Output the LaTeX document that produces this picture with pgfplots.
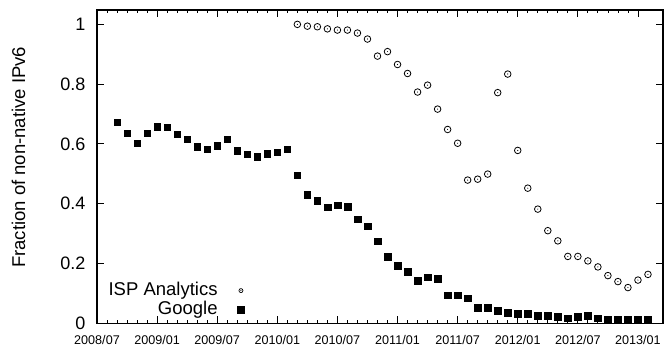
\documentclass[border=0pt]{standalone}
\usepackage{fontspec}
\setmainfont{Liberation Sans}
\usepackage{pgfplots}
\usepackage{pgfplotstable}
\pgfplotsset{compat=1.18}

% open circle with a centre dot
\pgfdeclareplotmark{odot}{%
  \pgfpathcircle{\pgfpointorigin}{\pgfplotmarksize}\pgfusepathqstroke
  \pgfpathcircle{\pgfpointorigin}{0.6pt}\pgfusepathqfill}

% month: months since 2008/07
\pgfplotstableread{
month frac
20 0.999
21 0.993
22 0.991
23 0.984
24 0.980
25 0.980
26 0.970
27 0.950
28 0.893
29 0.908
30 0.865
31 0.835
32 0.773
33 0.796
34 0.716
35 0.648
36 0.602
37 0.479
38 0.482
39 0.499
40 0.771
41 0.833
42 0.578
43 0.452
44 0.382
45 0.310
46 0.276
47 0.224
48 0.224
49 0.209
50 0.189
51 0.160
52 0.140
53 0.120
54 0.145
55 0.164
}\ispdata

\pgfplotstableread{
month frac
2 0.672
3 0.635
4 0.602
5 0.635
6 0.657
7 0.655
8 0.632
9 0.615
10 0.590
11 0.582
12 0.594
13 0.616
14 0.577
15 0.565
16 0.558
17 0.568
18 0.572
19 0.582
20 0.495
21 0.431
22 0.411
23 0.389
24 0.395
25 0.391
26 0.348
27 0.325
28 0.275
29 0.224
30 0.194
31 0.174
32 0.142
33 0.154
34 0.149
35 0.095
36 0.095
37 0.085
38 0.052
39 0.052
40 0.042
41 0.037
42 0.032
43 0.032
44 0.026
45 0.026
46 0.022
47 0.018
48 0.022
49 0.027
50 0.018
51 0.012
52 0.012
53 0.012
54 0.013
55 0.012
}\googledata

\begin{document}
\begin{tikzpicture}
\begin{axis}[
  scale only axis,
  width=566bp, height=313.5bp,
  xmin=0, xmax=56.5,
  ymin=0, ymax=1.047,
  xtick={0,6,...,54},
  xticklabels={2008/07,2009/01,2009/07,2010/01,2010/07,2011/01,2011/07,2012/01,2012/07,2013/01},
  minor x tick num=5,
  ytick={0,0.2,0.4,0.6,0.8,1},
  yticklabels={0,0.2,0.4,0.6,0.8,1},
  tick align=inside,
  tick pos=both,
  major tick length=7bp,
  minor tick length=3.5bp,
  axis line style={line width=1.2bp},
  every tick/.style={black, line width=0.8bp},
  x tick label style={font=\fontsize{12.6bp}{14bp}\selectfont, yshift=-8bp},
  y tick label style={font=\fontsize{18bp}{20bp}\selectfont, xshift=-8bp},
  ylabel={Fraction of non-native IPv6},
  ylabel style={font=\fontsize{18.5bp}{20bp}\selectfont,
    at={(axis description cs:-0.1387,0.53)}, anchor=center, rotate=0},
  legend plot pos=right,
  legend cell align=right,
  legend style={
    draw=none, fill=none,
    at={(axis cs:14.7,0.018)}, anchor=south east,
    font=\fontsize{18.5bp}{20bp}\selectfont,
    inner sep=0pt, outer sep=0pt,
    row sep=2bp, column sep=0bp,
    nodes={inner sep=0pt, text height=13bp, text depth=4bp},
  },
]
\addplot[only marks, mark=odot, mark size=3.3bp, line width=0.8bp,
  legend image code/.code={\path[draw=none, fill=none] (0bp,0bp) -- (26bp,0bp);
    \draw[only marks, mark=odot, mark size=2bp, line width=0.7bp]
      plot coordinates {(23.4bp,0bp)};}]
  table[x=month, y=frac] {\ispdata};
\addlegendentry{ISP Analytics}
\addplot[only marks, mark=square*, mark size=3.3bp,
  legend image code/.code={\path[draw=none, fill=none] (0bp,0bp) -- (26bp,0bp);
    \draw[only marks, mark=square*, mark size=3.3bp]
      plot coordinates {(23.4bp,0bp)};}]
  table[x=month, y=frac] {\googledata};
\addlegendentry{Google}
\end{axis}
\pgfresetboundingbox
\path (current axis.south west) ++(-97bp,-25.5bp) rectangle ++(667bp,349bp);
\end{tikzpicture}
\end{document}
